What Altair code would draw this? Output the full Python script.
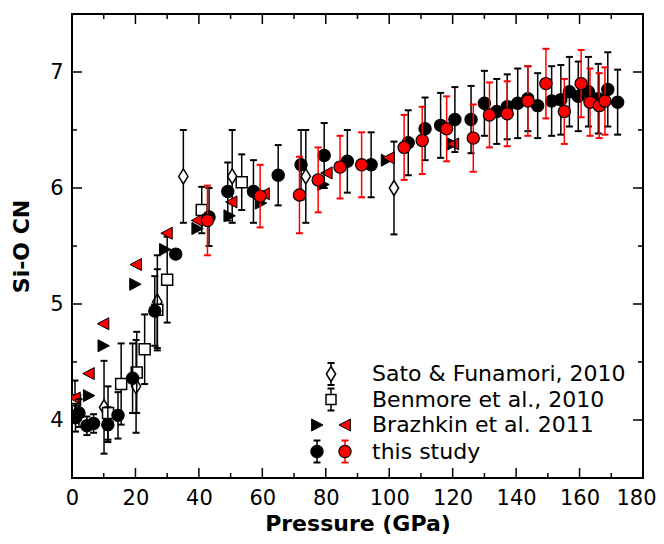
import altair as alt
import pandas as pd

# ---------------- data ----------------
# this study, black circles
black_p = [1.1, 2.2, 4.7, 6.8, 11.3, 14.5, 19.1, 26.1, 32.7, 43.2, 49.1, 57.2, 65.0, 72.2,
           79.5, 86.8, 94.3, 106.0, 111.3, 116.2, 120.7, 125.8, 130.0, 133.9, 137.2, 140.5,
           143.7, 146.8, 151.2, 154.1, 156.8, 159.6, 162.8, 165.9, 168.9, 172.0]
black_cn = [4.02, 4.06, 3.95, 3.97, 3.96, 4.04, 4.36, 4.94, 5.43, 5.75, 5.97, 5.97, 6.11, 6.20,
            6.28, 6.23, 6.20, 6.39, 6.51, 6.54, 6.59, 6.59, 6.73, 6.66, 6.70, 6.73,
            6.77, 6.71, 6.75, 6.76, 6.83, 6.79, 6.83, 6.77, 6.85, 6.74]
black_err = [0.12, 0.12, 0.08, 0.08, 0.15, 0.2, 0.3, 0.3, 0.0, 0.25, 0.25, 0.27, 0.26, 0.3,
             0.28, 0.27, 0.28, 0.28, 0.27, 0.28, 0.28, 0.29, 0.28, 0.28, 0.28, 0.3,
             0.28, 0.28, 0.3, 0.3, 0.3, 0.3, 0.3, 0.3, 0.32, 0.28]

# this study, red circles
red_p = [42.7, 59.3, 71.7, 77.6, 84.5, 91.3, 104.7, 110.4, 118.1, 126.5, 131.6, 137.2,
         143.7, 149.4, 155.2, 160.5, 163.3, 166.2, 168.0]
red_cn = [5.72, 5.93, 5.94, 6.07, 6.18, 6.20, 6.35, 6.41, 6.51, 6.43, 6.63, 6.64,
          6.75, 6.90, 6.66, 6.90, 6.74, 6.71, 6.75]
red_err = [0.3, 0.27, 0.33, 0.28, 0.27, 0.28, 0.28, 0.29, 0.28, 0.29, 0.28, 0.28,
           0.3, 0.3, 0.28, 0.29, 0.29, 0.28, 0.29]

# Brazhkin et al. 2011
braz_black_p = [5.3, 9.9, 19.9, 29.3, 39.5, 49.6, 59.5, 79.2, 99.2, 120.1]
braz_black_cn = [4.21, 4.64, 5.17, 5.47, 5.65, 5.76, 5.87, 6.03, 6.24, 6.38]
braz_red_p = [0.9, 5.3, 9.9, 20.2, 29.9, 39.5, 50.3, 60.5, 80.3, 99.9, 120.2]
braz_red_cn = [4.19, 4.40, 4.83, 5.34, 5.61, 5.72, 5.88, 5.95, 6.13, 6.26, 6.38]

# Sato & Funamori 2010
sato_p = [10.1, 20.2, 26.9, 35.1, 50.5, 73.7, 101.5]
sato_cn = [4.11, 4.29, 5.02, 6.10, 6.10, 6.10, 6.00]
sato_err = [0.4, 0.4, 0.4, 0.4, 0.4, 0.4, 0.4]

# Benmore et al. 2010
ben_p = [0.95, 11.35, 15.5, 20.4, 22.9, 26.9, 30.0, 40.9, 53.5]
ben_cn = [4.17, 4.06, 4.31, 4.41, 4.61, 4.95, 5.21, 5.81, 6.05]
ben_err = [0.17, 0.23, 0.35, 0.35, 0.3, 0.35, 0.37, 0.2, 0.24]

# axis ticks
x_major = list(range(0, 181, 20))
x_minor = list(range(10, 180, 20))
y_major = [4, 5, 6, 7]
y_minor = [4.5, 5.5, 6.5]

legend_labels = ["Sato & Funamori, 2010", "Benmore et al., 2010", "Brazhkin et al. 2011", "this study"]

# ---------------- layout / style ----------------
W, H = 571, 464
FONT = "DejaVu Sans"
RED = "#ff0000"
DIAMOND = "M0,-1L0.62,0L0,1L-0.62,0Z"
TRI_RIGHT = "M-0.9,-1L1,0L-0.9,1Z"
TRI_LEFT = "M0.9,-1L-1,0L0.9,1Z"
CAP = "M-1,0L1,0"

xs = alt.Scale(domain=[0, 180], nice=False, zero=False)
ys = alt.Scale(domain=[3.5, 7.5], nice=False, zero=False)

axis_x = alt.Axis(values=x_major, title="Pressure (GPa)", ticks=False, domain=False, grid=False,
                  labelFont=FONT, labelFontSize=21, labelColor="black", labelPadding=9,
                  labelFlush=False, labelOffset=alt.expr("datum.value == 180 ? -7 : 0"),
                  titleFont=FONT, titleFontSize=22, titleFontWeight="bold",
                  titleColor="black", titlePadding=5)
axis_y = alt.Axis(values=y_major, title="Si-O CN", ticks=False, domain=False, grid=False,
                  labelFont=FONT, labelFontSize=21, labelColor="black", labelPadding=9,
                  labelFlush=False, titleFont=FONT, titleFontSize=22, titleFontWeight="bold",
                  titleColor="black", titlePadding=16)


def X(f):
    return alt.X(f, type="quantitative", scale=xs, axis=axis_x)


def Y(f):
    return alt.Y(f, type="quantitative", scale=ys, axis=axis_y)


def points(p, cn, shape, size, fill, stroke, sw=1.2):
    df = pd.DataFrame({"p": p, "cn": cn})
    return alt.Chart(df).mark_point(shape=shape, size=size, filled=True, fill=fill, stroke=stroke,
                                    strokeWidth=sw, opacity=1, clip=True).encode(x=X("p"), y=Y("cn"))


def errbars(p, cn, err, color):
    df = pd.DataFrame({"p": p, "cn": cn, "err": err})
    df = df[df["err"] > 0].copy()
    df["lo"] = df["cn"] - df["err"]
    df["hi"] = df["cn"] + df["err"]
    base = alt.Chart(df)
    bar = base.mark_rule(color=color, strokeWidth=1.5, clip=True).encode(x=X("p"), y=Y("lo"), y2="hi")
    lo = base.mark_point(shape=CAP, size=49, filled=False, stroke=color, strokeWidth=2,
                         opacity=1, clip=True).encode(x=X("p"), y=Y("lo"))
    hi = base.mark_point(shape=CAP, size=49, filled=False, stroke=color, strokeWidth=2,
                         opacity=1, clip=True).encode(x=X("p"), y=Y("hi"))
    return [bar, lo, hi]


layers = []

# frame ticks (inward, mirrored)
for vals, ln in ((x_major, 10), (x_minor, 5)):
    d = alt.Chart(pd.DataFrame({"v": vals}))
    layers.append(d.mark_rule(color="black", strokeWidth=1.5).encode(x=X("v"), y=alt.value(H), y2=alt.value(H - ln)))
    layers.append(d.mark_rule(color="black", strokeWidth=1.5).encode(x=X("v"), y=alt.value(0), y2=alt.value(ln)))
for vals, ln in ((y_major, 10), (y_minor, 5)):
    d = alt.Chart(pd.DataFrame({"v": vals}))
    layers.append(d.mark_rule(color="black", strokeWidth=1.5).encode(y=Y("v"), x=alt.value(0), x2=alt.value(ln)))
    layers.append(d.mark_rule(color="black", strokeWidth=1.5).encode(y=Y("v"), x=alt.value(W), x2=alt.value(W - ln)))

# Sato
layers += errbars(sato_p, sato_cn, sato_err, "black")
layers.append(points(sato_p, sato_cn, DIAMOND, 225, "white", "black", 1.5))
# Benmore
layers += errbars(ben_p, ben_cn, ben_err, "black")
layers.append(points(ben_p, ben_cn, "square", 121, "white", "black", 1.5))
# Brazhkin
layers.append(points(braz_black_p, braz_black_cn, TRI_RIGHT, 144, "black", "black", 1))
layers.append(points(braz_red_p, braz_red_cn, TRI_LEFT, 144, RED, "black", 1))
# this study
layers += errbars(black_p, black_cn, black_err, "black")
layers.append(points(black_p, black_cn, "circle", 150, "black", "black", 1.2))
layers += errbars(red_p, red_cn, red_err, RED)
layers.append(points(red_p, red_cn, "circle", 150, RED, "black", 1.2))

# ---------------- legend (drawn inside the plot) ----------------
one = pd.DataFrame({"a": [0]})
leg_text_x = 300
leg_row_y = [360, 385.5, 411, 437.5]
leg_sym_x = {"single": 259, "left": 245, "right": 273}
leg_err_half = 11


def leg_err(x, y, color):
    c = alt.Chart(one)
    return [
        c.mark_rule(color=color, strokeWidth=1.5).encode(x=alt.value(x), y=alt.value(y - leg_err_half), y2=alt.value(y + leg_err_half)),
        c.mark_point(shape=CAP, size=49, filled=False, stroke=color, strokeWidth=2, opacity=1).encode(x=alt.value(x), y=alt.value(y - leg_err_half)),
        c.mark_point(shape=CAP, size=49, filled=False, stroke=color, strokeWidth=2, opacity=1).encode(x=alt.value(x), y=alt.value(y + leg_err_half)),
    ]


def leg_sym(x, y, shape, size, fill, sw=1.2):
    return alt.Chart(one).mark_point(shape=shape, size=size, filled=True, fill=fill, stroke="black",
                                     strokeWidth=sw, opacity=1).encode(x=alt.value(x), y=alt.value(y))


layers += leg_err(leg_sym_x["single"], leg_row_y[0], "black")
layers.append(leg_sym(leg_sym_x["single"], leg_row_y[0], DIAMOND, 225, "white", 1.5))
layers += leg_err(leg_sym_x["single"], leg_row_y[1], "black")
layers.append(leg_sym(leg_sym_x["single"], leg_row_y[1], "square", 100, "white", 1.5))
layers.append(leg_sym(leg_sym_x["left"], leg_row_y[2], TRI_RIGHT, 144, "black", 1))
layers.append(leg_sym(leg_sym_x["right"], leg_row_y[2], TRI_LEFT, 144, RED, 1))
layers += leg_err(leg_sym_x["left"], leg_row_y[3], "black")
layers.append(leg_sym(leg_sym_x["left"], leg_row_y[3], "circle", 150, "black"))
layers += leg_err(leg_sym_x["right"], leg_row_y[3], RED)
layers.append(leg_sym(leg_sym_x["right"], leg_row_y[3], "circle", 150, RED))

for lab, yy in zip(legend_labels, leg_row_y):
    layers.append(alt.Chart(one).mark_text(text=lab, align="left", baseline="middle", font=FONT,
                                           fontSize=22, color="black").encode(x=alt.value(leg_text_x), y=alt.value(yy)))

chart = alt.layer(*layers).properties(
    width=W, height=H,
    autosize=alt.AutoSizeParams(type="none"),
    padding={"left": 64, "top": 6, "right": 13, "bottom": 58},
    background="white",
).configure_view(stroke="black", strokeWidth=2)

chart.save("out.html", embed_options={"renderer": "svg", "actions": False})
